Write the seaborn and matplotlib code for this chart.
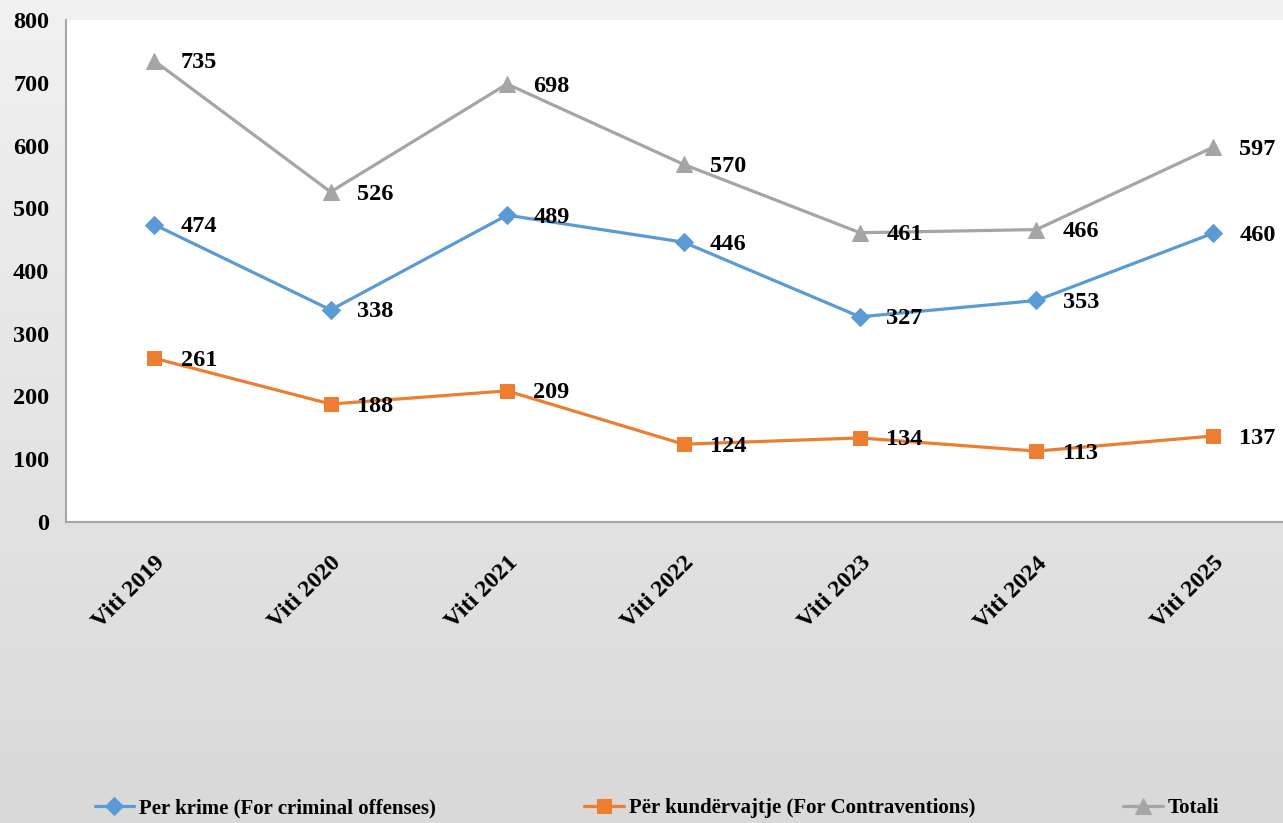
import matplotlib
matplotlib.use("Agg")
import matplotlib.pyplot as plt
import numpy as np
import pandas as pd
import seaborn as sns

YEARS = ["Viti 2019", "Viti 2020", "Viti 2021", "Viti 2022", "Viti 2023", "Viti 2024", "Viti 2025"]
CRIMES = [474, 338, 489, 446, 327, 353, 460]
CONTRAVENTIONS = [261, 188, 209, 124, 134, 113, 137]
TOTAL = [735, 526, 698, 570, 461, 466, 597]

SERIES = [
    ("Per krime (For criminal offenses)", CRIMES, "#5B9BD5", "D", 9),
    ("Për kundërvajtje (For Contraventions)", CONTRAVENTIONS, "#ED7D31", "s", 10),
    ("Totali", TOTAL, "#A5A5A5", "^", 11),
]

sns.set_style("white")
plt.rcParams["font.family"] = ["Liberation Serif", "DejaVu Serif"]
plt.rcParams["text.color"] = "black"
plt.rcParams["xtick.color"] = "black"
plt.rcParams["ytick.color"] = "black"

W, H = 1283, 823
fig = plt.figure(figsize=(W / 100, H / 100), dpi=100)

# gradient background
bg = fig.add_axes([0, 0, 1, 1], zorder=0)
grad = np.linspace(0, 1, 256).reshape(-1, 1)
bg.imshow(grad, aspect="auto", cmap=matplotlib.colors.LinearSegmentedColormap.from_list(
    "bgg", ["#f1f1f1", "#d9d9d9"]), extent=[0, 1, 0, 1], origin="upper")
bg.axis("off")

ax = fig.add_axes([66 / W, 1 - 522 / H, (1301 - 66) / W, (522 - 20) / H], zorder=1)
ax.set_facecolor("white")

handles = []
for name, vals, color, marker, ms in SERIES:
    df = pd.DataFrame({"year": YEARS, "value": vals})
    sns.lineplot(data=df, x="year", y="value", ax=ax, color=color, marker=marker,
                 markersize=ms, markeredgecolor=color, linewidth=2.3, sort=False,
                 label=name, legend=False)
    handles.append(ax.lines[-1])
    for i, v in enumerate(vals):
        ax.annotate(str(v), (i, v), xytext=(19, -1.5), textcoords="offset points",
                    ha="left", va="center", fontsize=17.5, fontweight="bold", color="black")

ax.set_xlim(-0.5, len(YEARS) - 0.5)
ax.set_ylim(0, 800)
ax.set_yticks(range(0, 801, 100))
ax.set_xlabel("")
ax.set_ylabel("")
ax.tick_params(axis="y", length=0, pad=12, labelsize=17.5)
ax.tick_params(axis="x", length=0, pad=22, labelsize=17.5)
for lbl in ax.get_yticklabels():
    lbl.set_fontweight("bold")
for lbl in ax.get_xticklabels():
    lbl.set_fontweight("bold")
    lbl.set_rotation(45)
    lbl.set_ha("right")
    lbl.set_rotation_mode("anchor")

for s in ["top", "right"]:
    ax.spines[s].set_visible(False)
for s in ["left", "bottom"]:
    ax.spines[s].set_color("#a6a6a6")
    ax.spines[s].set_linewidth(1.5)

fig.legend(handles=handles, labels=[s[0] for s in SERIES], loc="center",
           bbox_to_anchor=(657 / W, 1 - 808 / H), ncol=3, frameon=False,
           prop={"family": "Liberation Serif", "weight": "bold", "size": 15},
           handlelength=1.9, handletextpad=0.25, columnspacing=7.1)

fig.savefig("out.png", dpi=100)
